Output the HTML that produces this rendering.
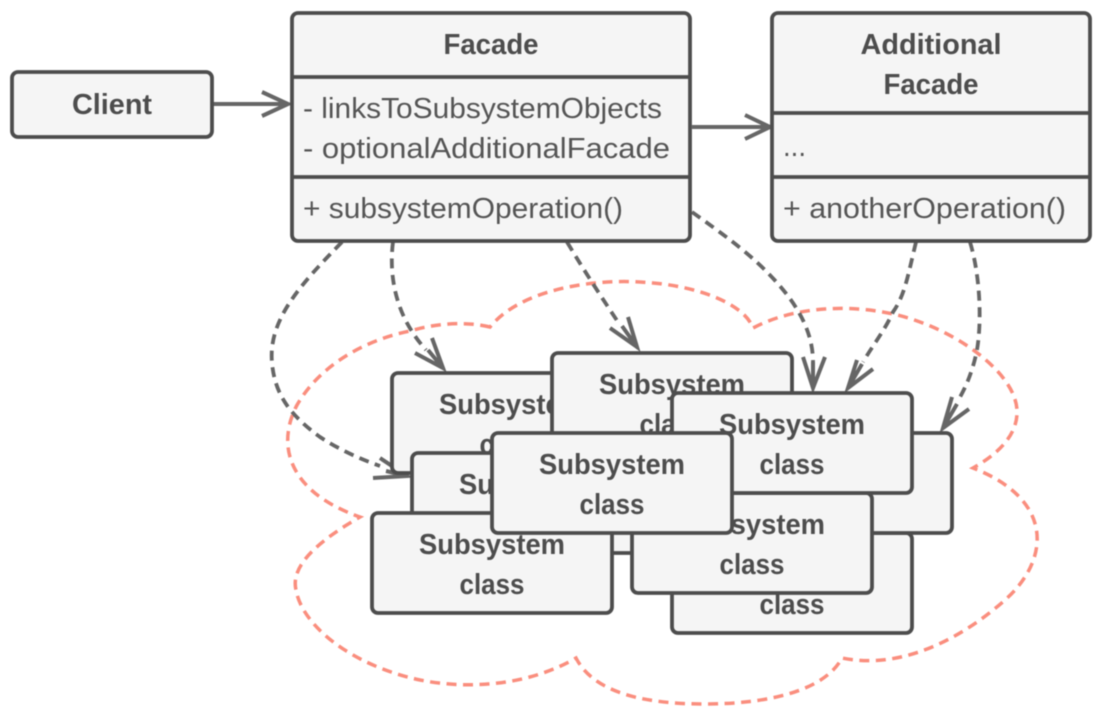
<!DOCTYPE html>
<html><head><meta charset="utf-8">
<style>
html,body{margin:0;padding:0;background:#fff;width:1106px;height:716px;overflow:hidden}
svg{display:block;filter:blur(.5px)}
text{font-family:"Liberation Sans",sans-serif;fill:#4d4d4d}
.b{font-weight:bold;font-size:29px}
.r{font-size:29px;fill:#555}
rect{fill:#f5f5f5;stroke:#4d4d4d;stroke-width:3.8}
.d{fill:none;stroke:#666;stroke-width:3.8;stroke-dasharray:10 6.5}
.a{fill:none;stroke:#666;stroke-width:4}
.c{fill:none;stroke:#fa8e7e;stroke-width:3.5;stroke-dasharray:10 6.5}
</style></head><body>
<svg width="1106" height="716" viewBox="0 0 1106 716" xmlns="http://www.w3.org/2000/svg">
<path class="c" d="M490 327C470 322 440 322 410 331C365 340 320 365 297 405C276 445 288 492 360 517C320 540 290 565 296 590C302 625 350 665 420 680C470 690 530 685 576 658C595 695 650 704 705 704C770 704 825 690 842 658C900 670 960 640 1005 600C1050 560 1055 500 973 468C1005 450 1018 430 1017 410C1015 375 965 338 920 322C870 303 800 303 753 328C745 305 700 285 640 282C590 279 520 290 490 327Z"/>

<path class="d" d="M342 242C300 285 268 320 272 363C275 395 290 415 320 437C340 450 358 458 380 466"/>
<path class="a" d="M380 458L407 476L373 478M386 471L407 476"/>
<path class="d" d="M393 242C390 265 392 295 407 323C413 334 419 342 426 350"/>
<path class="a" d="M432 338L443 368L415 353M428 350L443 368"/>
<path class="d" d="M567 242C585 272 602 298 620 325"/>
<path class="a" d="M628 317L637 347L610 328M622 326L637 347"/>
<path class="d" d="M692 212C720 232 745 250 765 270C790 295 813 325 813 362"/>
<path class="a" d="M803 357L813 388L825 357M813 362V388"/>
<path class="d" d="M916 242C908 275 905 295 893 312C885 330 873 345 863 362"/>
<path class="a" d="M857 360L848 388L873 369M862 364L848 388"/>
<path class="d" d="M970 242C980 275 982 320 977 350C973 370 966 388 957 402"/>
<path class="a" d="M952 397L943 428L969 409M957 404L943 428"/>

<path class="a" d="M213 104H286M262 92L288 104L262 116"/>
<path class="a" d="M692 127H768M745 115L770 127L745 139"/>

<rect x="12" y="72" width="200" height="65" rx="6"/>
<text class="b" x="112" y="114" text-anchor="middle" textLength="80" lengthAdjust="spacingAndGlyphs">Client</text>

<rect x="292" y="13" width="398" height="228" rx="6"/>
<path d="M292 77H690M292 177H690" stroke="#4d4d4d" stroke-width="3.8" fill="none"/>
<text class="b" x="491" y="54" text-anchor="middle" textLength="95" lengthAdjust="spacingAndGlyphs">Facade</text>
<text class="r" x="303" y="118" textLength="359" lengthAdjust="spacingAndGlyphs">- linksToSubsystemObjects</text>
<text class="r" x="303" y="158" textLength="367" lengthAdjust="spacingAndGlyphs">- optionalAdditionalFacade</text>
<text class="r" x="303" y="218" textLength="320" lengthAdjust="spacingAndGlyphs">+ subsystemOperation()</text>

<rect x="772" y="13" width="318" height="228" rx="6"/>
<path d="M772 113H1090M772 177H1090" stroke="#4d4d4d" stroke-width="3.8" fill="none"/>
<text class="b" x="931" y="54" text-anchor="middle" textLength="141" lengthAdjust="spacingAndGlyphs">Additional</text>
<text class="b" x="931" y="94" text-anchor="middle" textLength="95" lengthAdjust="spacingAndGlyphs">Facade</text>
<text class="r" x="783" y="156" textLength="23" lengthAdjust="spacingAndGlyphs">...</text>
<text class="r" x="783" y="218" textLength="283" lengthAdjust="spacingAndGlyphs">+ anotherOperation()</text>

<rect x="392" y="373" width="240" height="100" rx="6"/>
<text class="b" x="512" y="414" text-anchor="middle" textLength="146" lengthAdjust="spacingAndGlyphs">Subsystem</text>
<text class="b" x="512" y="454" text-anchor="middle" textLength="65" lengthAdjust="spacingAndGlyphs">class</text>

<rect x="552" y="353" width="240" height="100" rx="6"/>
<text class="b" x="672" y="394" text-anchor="middle" textLength="146" lengthAdjust="spacingAndGlyphs">Subsystem</text>
<text class="b" x="672" y="434" text-anchor="middle" textLength="65" lengthAdjust="spacingAndGlyphs">class</text>

<rect x="412" y="453" width="240" height="100" rx="6"/>
<text class="b" x="532" y="494" text-anchor="middle" textLength="146" lengthAdjust="spacingAndGlyphs">Subsystem</text>
<text class="b" x="532" y="534" text-anchor="middle" textLength="65" lengthAdjust="spacingAndGlyphs">class</text>

<rect x="372" y="513" width="240" height="100" rx="6"/>
<text class="b" x="492" y="554" text-anchor="middle" textLength="146" lengthAdjust="spacingAndGlyphs">Subsystem</text>
<text class="b" x="492" y="594" text-anchor="middle" textLength="65" lengthAdjust="spacingAndGlyphs">class</text>

<rect x="672" y="533" width="240" height="100" rx="6"/>
<text class="b" x="792" y="574" text-anchor="middle" textLength="146" lengthAdjust="spacingAndGlyphs">Subsystem</text>
<text class="b" x="792" y="614" text-anchor="middle" textLength="65" lengthAdjust="spacingAndGlyphs">class</text>

<rect x="712" y="433" width="240" height="100" rx="6"/>
<text class="b" x="832" y="474" text-anchor="middle" textLength="146" lengthAdjust="spacingAndGlyphs">Subsystem</text>
<text class="b" x="832" y="514" text-anchor="middle" textLength="65" lengthAdjust="spacingAndGlyphs">class</text>

<rect x="632" y="493" width="240" height="100" rx="6"/>
<text class="b" x="752" y="534" text-anchor="middle" textLength="146" lengthAdjust="spacingAndGlyphs">Subsystem</text>
<text class="b" x="752" y="574" text-anchor="middle" textLength="65" lengthAdjust="spacingAndGlyphs">class</text>

<rect x="672" y="393" width="240" height="100" rx="6"/>
<text class="b" x="792" y="434" text-anchor="middle" textLength="146" lengthAdjust="spacingAndGlyphs">Subsystem</text>
<text class="b" x="792" y="474" text-anchor="middle" textLength="65" lengthAdjust="spacingAndGlyphs">class</text>

<rect x="492" y="433" width="240" height="100" rx="6"/>
<text class="b" x="612" y="474" text-anchor="middle" textLength="146" lengthAdjust="spacingAndGlyphs">Subsystem</text>
<text class="b" x="612" y="514" text-anchor="middle" textLength="65" lengthAdjust="spacingAndGlyphs">class</text>
</svg>
</body></html>
